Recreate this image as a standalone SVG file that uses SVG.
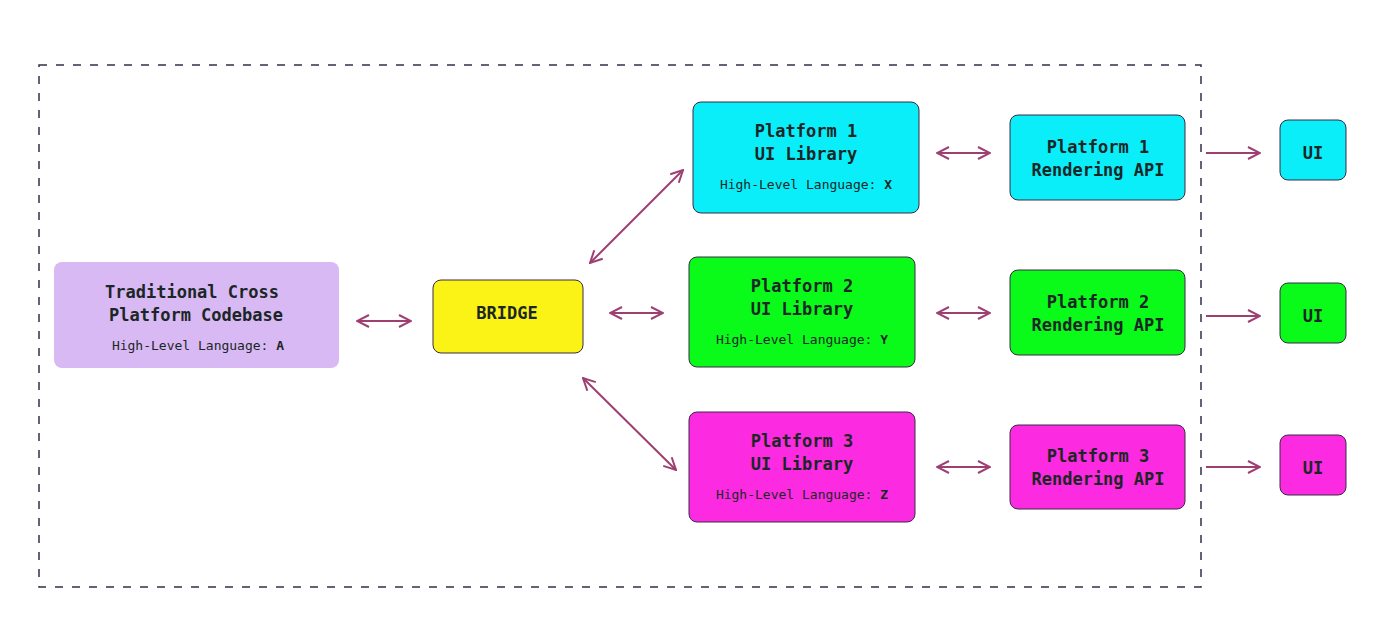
<svg xmlns="http://www.w3.org/2000/svg" width="1400" height="638" viewBox="0 0 1400 638">
<style>
.t{font-family:"DejaVu Sans Mono","Liberation Mono",monospace;font-weight:bold;font-size:17px;fill:#1b2626;text-anchor:middle}
.s{font-family:"DejaVu Sans Mono","Liberation Mono",monospace;font-size:13px;fill:#1b2626;text-anchor:middle}
.n{stroke:#3a2a45;stroke-width:1}
.c{stroke:#9e3f72;stroke-width:2;fill:none}
</style>
<defs>
<marker id="a" viewBox="0 0 14 14" refX="13" refY="7" markerWidth="14" markerHeight="14" markerUnits="userSpaceOnUse" orient="auto-start-reverse">
<path d="M1,1 L13,7 L1,13" fill="none" stroke="#9e3f72" stroke-width="2"/>
</marker>
</defs>
<rect x="39" y="65" width="1162" height="522" fill="none" stroke="#3a2d48" stroke-width="1.5" stroke-dasharray="8 9"/>
<g id="connectors">
<line class="c" x1="357" y1="321" x2="411" y2="321" marker-start="url(#a)" marker-end="url(#a)"/>
<line class="c" x1="610" y1="313" x2="663" y2="313" marker-start="url(#a)" marker-end="url(#a)"/>
<line class="c" x1="590" y1="263" x2="683" y2="170" marker-start="url(#a)" marker-end="url(#a)"/>
<line class="c" x1="583" y1="378" x2="676" y2="470" marker-start="url(#a)" marker-end="url(#a)"/>
<line class="c" x1="937" y1="153" x2="990" y2="153" marker-start="url(#a)" marker-end="url(#a)"/>
<line class="c" x1="937" y1="313" x2="990" y2="313" marker-start="url(#a)" marker-end="url(#a)"/>
<line class="c" x1="937" y1="467" x2="990" y2="467" marker-start="url(#a)" marker-end="url(#a)"/>
<line class="c" x1="1206" y1="153" x2="1260" y2="153" marker-end="url(#a)"/>
<line class="c" x1="1206" y1="316" x2="1260" y2="316" marker-end="url(#a)"/>
<line class="c" x1="1206" y1="467" x2="1260" y2="467" marker-end="url(#a)"/>
</g>
<g id="codebase">
<rect x="54" y="262" width="285" height="106" rx="8" fill="#d8b9f3"/>
<text class="t" x="192" y="298">Traditional Cross</text>
<text class="t" x="196" y="321">Platform Codebase</text>
<text class="s" x="198" y="350">High-Level Language: <tspan font-weight="bold">A</tspan></text>
</g>
<g id="bridge">
<rect class="n" x="433" y="280" width="150" height="73" rx="8" fill="#fcf316"/>
<text class="t" x="507" y="319">BRIDGE</text>
</g>
<g id="ui-lib-1">
<rect class="n" x="693" y="102" width="226" height="111" rx="8" fill="#0aeefa"/>
<text class="t" x="806" y="137">Platform 1</text>
<text class="t" x="806" y="160">UI Library</text>
<text class="s" x="806" y="189">High-Level Language: <tspan font-weight="bold">X</tspan></text>
</g>
<g id="ui-lib-2">
<rect class="n" x="689" y="257" width="226" height="110" rx="8" fill="#0afa1a"/>
<text class="t" x="802" y="292">Platform 2</text>
<text class="t" x="802" y="315">UI Library</text>
<text class="s" x="802" y="344">High-Level Language: <tspan font-weight="bold">Y</tspan></text>
</g>
<g id="ui-lib-3">
<rect class="n" x="689" y="412" width="226" height="110" rx="8" fill="#fc2ae0"/>
<text class="t" x="802" y="447">Platform 3</text>
<text class="t" x="802" y="470">UI Library</text>
<text class="s" x="802" y="499">High-Level Language: <tspan font-weight="bold">Z</tspan></text>
</g>
<g id="render-1">
<rect class="n" x="1010" y="115" width="175" height="85" rx="8" fill="#0aeefa"/>
<text class="t" x="1098" y="153">Platform 1</text>
<text class="t" x="1098" y="176">Rendering API</text>
</g>
<g id="render-2">
<rect class="n" x="1010" y="270" width="175" height="85" rx="8" fill="#0afa1a"/>
<text class="t" x="1098" y="308">Platform 2</text>
<text class="t" x="1098" y="331">Rendering API</text>
</g>
<g id="render-3">
<rect class="n" x="1010" y="425" width="175" height="84" rx="8" fill="#fc2ae0"/>
<text class="t" x="1098" y="462">Platform 3</text>
<text class="t" x="1098" y="485">Rendering API</text>
</g>
<g id="ui-1">
<rect class="n" x="1280" y="120" width="66" height="60" rx="8" fill="#0aeefa"/>
<text class="t" x="1313" y="159">UI</text>
</g>
<g id="ui-2">
<rect class="n" x="1280" y="283" width="66" height="60" rx="8" fill="#0afa1a"/>
<text class="t" x="1313" y="322">UI</text>
</g>
<g id="ui-3">
<rect class="n" x="1280" y="435" width="66" height="60" rx="8" fill="#fc2ae0"/>
<text class="t" x="1313" y="474">UI</text>
</g>
</svg>
